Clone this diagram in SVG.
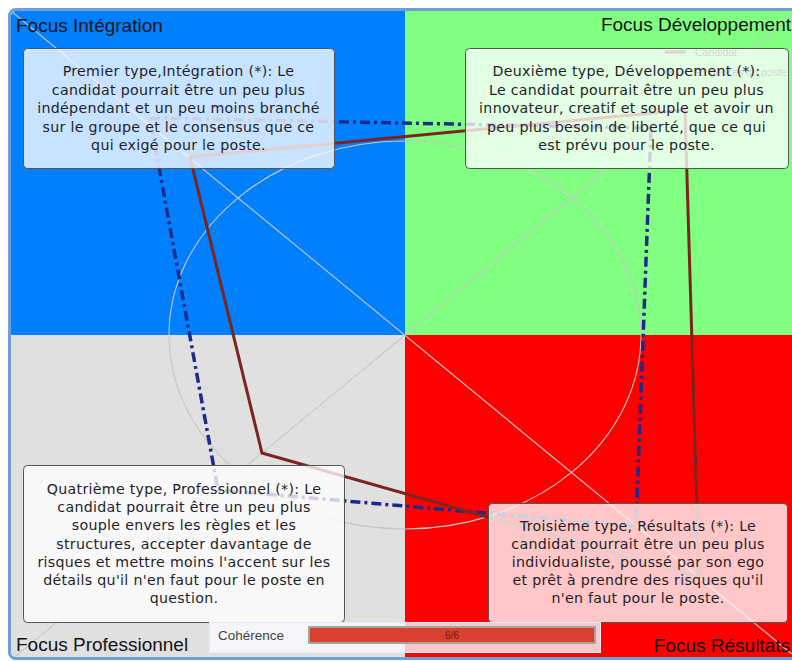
<svg xmlns="http://www.w3.org/2000/svg" width="792" height="661" viewBox="0 0 792 661">
<defs>
<style>
.quad-label{font-family:"Liberation Sans",Arial,sans-serif;font-size:19px;fill:#141414}
.box rect{fill:#ffffff;fill-opacity:0.78;stroke:#555555;stroke-width:1}
.box text{font-family:"DejaVu Sans","Noto Sans",sans-serif;font-size:14.2px;letter-spacing:0.3px;fill:#1e1e2a;text-anchor:middle}
.guide{fill:none;stroke:#c6c6c6;stroke-width:1.1}
.candidat{fill:none;stroke:#7d2420;stroke-width:3;stroke-linejoin:miter}
.poste{fill:none;stroke:#1e2a8a;stroke-width:3.5;stroke-dasharray:10 4 3 4}
.legend text{font-family:"Liberation Sans",Arial,sans-serif;font-size:10.5px;fill:#333333}
</style>
<clipPath id="area"><rect x="11" y="11" width="790" height="646" rx="5"/></clipPath>
</defs>
<rect x="0" y="0" width="792" height="661" fill="#ffffff"/>
<g id="quadrants" clip-path="url(#area)">
<rect x="11" y="11" width="394" height="324" fill="#0080ff"/>
<rect x="405" y="11" width="396" height="324" fill="#80ff80"/>
<rect x="11" y="335" width="394" height="322" fill="#e0e0e0"/>
<rect x="405" y="335" width="396" height="322" fill="#ff0000"/>
<line class="guide" x1="11" y1="11" x2="792" y2="654"/>
<line class="guide" x1="792" y1="16" x2="11" y2="660"/>
<ellipse class="guide" cx="405" cy="335" rx="236" ry="194"/>
</g>
<rect id="frame" x="9.5" y="9.5" width="800" height="649" rx="6" fill="none" stroke="#6e9fd6" stroke-width="3"/>
<g id="labels">
<text class="quad-label" x="16" y="32">Focus Intégration</text>
<text class="quad-label" x="791" y="31" text-anchor="end">Focus Développement</text>
<text class="quad-label" x="16" y="651">Focus Professionnel</text>
<text class="quad-label" x="790" y="652" text-anchor="end">Focus Résultats</text>
</g>
<g id="legend" class="legend">
<line x1="665" y1="52" x2="686" y2="52" stroke="#7d2420" stroke-width="3"/>
<text x="695" y="56">Candidat</text>
<line x1="665" y1="72" x2="686" y2="72" stroke="#1e2a8a" stroke-width="3" stroke-dasharray="8 3 3 3"/>
<text x="695" y="76">Exigences du poste</text>
</g>
<g id="connectors">
<polygon class="poste" points="150,118 651,128 636,526 218,490"/>
<polygon class="candidat" points="190,157 685,110 699,577 262,453"/>
</g>
<g id="box-integration" class="box">
<rect x="23.5" y="48.5" width="311" height="120" rx="4"/>
<text x="178.5" y="76">Premier type,Intégration (*): Le<tspan x="178.5" dy="18.5">candidat pourrait être un peu plus</tspan><tspan x="178.5" dy="18.5">indépendant et un peu moins branché</tspan><tspan x="178.5" dy="18.5">sur le groupe et le consensus que ce</tspan><tspan x="178.5" dy="18.5">qui exigé pour le poste.</tspan></text>
</g>
<g id="box-developpement" class="box">
<rect x="465.5" y="48.5" width="323" height="120" rx="4"/>
<text x="626.5" y="76">Deuxième type, Développement (*):<tspan x="626.5" dy="18.5">Le candidat pourrait être un peu plus</tspan><tspan x="626.5" dy="18.5">innovateur, creatif et souple et avoir un</tspan><tspan x="626.5" dy="18.5">peu plus besoin de liberté, que ce qui</tspan><tspan x="626.5" dy="18.5">est prévu pour le poste.</tspan></text>
</g>
<g id="box-professionnel" class="box">
<rect x="23.5" y="465.5" width="321" height="157" rx="4"/>
<text x="184" y="494">Quatrième type, Professionnel (*): Le<tspan x="184" dy="18.2">candidat pourrait être un peu plus</tspan><tspan x="184" dy="18.2">souple envers les règles et les</tspan><tspan x="184" dy="18.2">structures, accepter davantage de</tspan><tspan x="184" dy="18.2">risques et mettre moins l'accent sur les</tspan><tspan x="184" dy="18.2">détails qu'il n'en faut pour le poste en</tspan><tspan x="184" dy="18.2">question.</tspan></text>
</g>
<g id="box-resultats" class="box">
<rect x="488.5" y="503.5" width="299" height="119" rx="4"/>
<text x="638" y="531">Troisième type, Résultats (*): Le<tspan x="638" dy="18">candidat pourrait être un peu plus</tspan><tspan x="638" dy="18">individualiste, poussé par son ego</tspan><tspan x="638" dy="18">et prêt à prendre des risques qu'il</tspan><tspan x="638" dy="18">n'en faut pour le poste.</tspan></text>
</g>
<g id="coherence">
<rect x="209.5" y="622.5" width="391" height="30" fill="#f8faff" fill-opacity="0.8" stroke="#e6ecf6" stroke-width="1"/>
<text x="218" y="640" font-family="Liberation Sans,Arial,sans-serif" font-size="13.5px" fill="#444444">Cohérence</text>
<rect x="309" y="627" width="286" height="16" fill="#d9412e" stroke="#a3a3a3" stroke-width="2"/>
<text x="452" y="639" font-family="Liberation Sans,Arial,sans-serif" font-size="10px" fill="#6b1a10" text-anchor="middle">6/6</text>
</g>
</svg>
